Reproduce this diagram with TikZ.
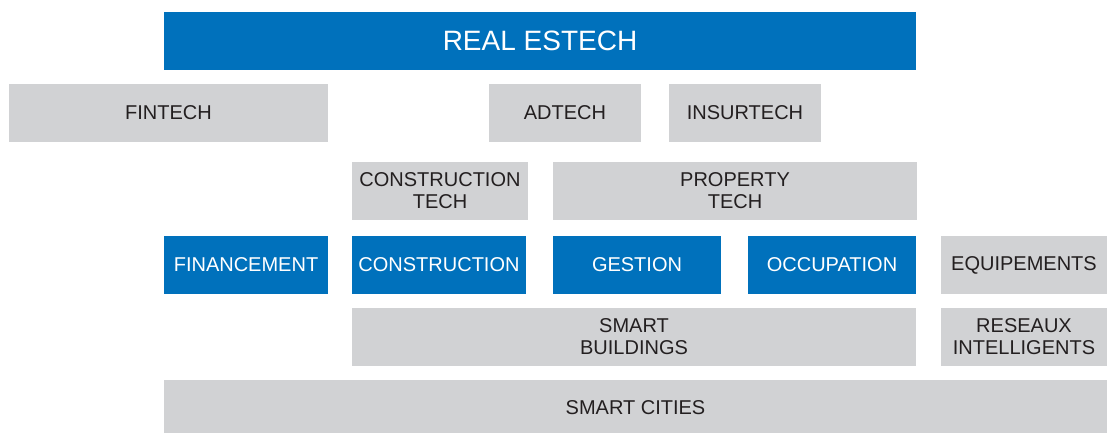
\documentclass[tikz,border=0pt]{standalone}
\usepackage{fontspec}
\setmainfont{Liberation Sans}
\definecolor{rblue}{HTML}{0071BC}
\definecolor{rgray}{HTML}{D1D2D4}
\definecolor{rtext}{HTML}{231F20}
\begin{document}
\begin{tikzpicture}[x=1pt,y=-1pt,
  box/.style={rectangle,inner sep=0pt,align=center,font=\fontsize{20}{22}\selectfont},
  graybox/.style={box,fill=rgray,text=rtext},
  bluebox/.style={box,fill=rblue,text=white}]
\useasboundingbox (0,0) rectangle (1107,432);
\node[bluebox,minimum width=752pt,minimum height=58pt,font=\fontsize{28}{30}\selectfont] (real) at (540,41) {REAL ESTECH};
\node[graybox,minimum width=319pt,minimum height=58pt] (fintech) at (168.5,113) {FINTECH};
\node[graybox,minimum width=152pt,minimum height=58pt] (adtech) at (565,113) {ADTECH};
\node[graybox,minimum width=152pt,minimum height=58pt] (insurtech) at (745,113) {INSURTECH};
\node[graybox,minimum width=176pt,minimum height=58pt] (ctech) at (440,191) {CONSTRUCTION\\TECH};
\node[graybox,minimum width=364pt,minimum height=58pt] (ptech) at (735,191) {PROPERTY\\TECH};
\node[bluebox,minimum width=164pt,minimum height=58pt] (financement) at (246,265) {FINANCEMENT};
\node[bluebox,minimum width=174pt,minimum height=58pt] (construction) at (439,265) {CONSTRUCTION};
\node[bluebox,minimum width=168pt,minimum height=58pt] (gestion) at (637,265) {GESTION};
\node[bluebox,minimum width=168pt,minimum height=58pt] (occupation) at (832,265) {OCCUPATION};
\node[graybox,minimum width=166pt,minimum height=58pt] (equipements) at (1024,265) {EQUIPEMENTS};
\node[graybox,minimum width=564pt,minimum height=58pt] (smartb) at (634,336.5) {SMART\\BUILDINGS};
\node[graybox,minimum width=166pt,minimum height=58pt] (reseaux) at (1024,336.5) {RESEAUX\\INTELLIGENTS};
\node[graybox,minimum width=943pt,minimum height=56pt] (cities) at (635.5,408) {SMART CITIES};
\end{tikzpicture}
\end{document}
